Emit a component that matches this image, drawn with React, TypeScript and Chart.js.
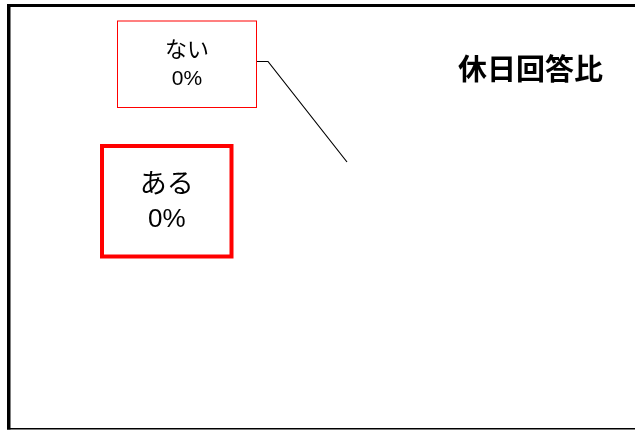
import React, { useEffect, useRef } from "react";
import { Chart, registerables } from "chart.js";

Chart.register(...registerables);

// ---- data ----
const categories = ["ある", "ない"];
const values = [0, 0];
const chartTitle = "休日回答比";

// ---- label styles (per category) ----
const labelStyles = [
  { dx: -180.25, dy: 39.25, w: 129.5, h: 110.5, border: 4, catFont: 27, pctFont: 26, lineGap: 36.4, leader: false },
  { dx: -160, dy: -97.75, w: 139, h: 86.5, border: 1, catFont: 22, pctFont: 21, lineGap: 30.6, leader: true },
];

const pct = (v: number, total: number) => (total > 0 ? Math.round((v / total) * 100) : 0) + "%";

const decorPlugin = {
  id: "decor",
  beforeDraw(chart: any) {
    const ctx = chart.ctx;
    ctx.save();
    ctx.fillStyle = "#ffffff";
    ctx.fillRect(0, 0, chart.width, chart.height);
    ctx.restore();
  },
  afterDraw(chart: any) {
    const ctx = chart.ctx;
    const W = chart.width;
    ctx.save();
    // frame
    ctx.fillStyle = "#000000";
    ctx.fillRect(7, 4, 3.5, 425.5);
    ctx.fillRect(7, 4, W - 7, 3);
    ctx.fillRect(7, 428, W - 7, 1.5);

    // title
    ctx.fillStyle = "#000000";
    ctx.font = "bold 29px 'Noto Sans CJK JP', sans-serif";
    ctx.textAlign = "center";
    ctx.textBaseline = "middle";
    ctx.fillText(chartTitle, 530.5, 68.5);

    // data labels
    const meta = chart.getDatasetMeta(0);
    const total = values.reduce((a, b) => a + b, 0);
    meta.data.forEach((arc: any, i: number) => {
      const st = labelStyles[i];
      const mid = (arc.startAngle + arc.endAngle) / 2;
      const ax = arc.x + Math.cos(mid) * arc.outerRadius;
      const ay = arc.y + Math.sin(mid) * arc.outerRadius;
      const cx = ax + st.dx;
      const cy = ay + st.dy;
      const left = cx - st.w / 2;
      const top = cy - st.h / 2;
      if (st.leader) {
        ctx.strokeStyle = "#000000";
        ctx.lineWidth = 1.2;
        ctx.beginPath();
        ctx.moveTo(left + st.w, cy - 2.75);
        ctx.lineTo(left + st.w + 11.5, cy - 2.75);
        ctx.lineTo(ax, ay);
        ctx.stroke();
      }
      ctx.strokeStyle = "#ff0000";
      ctx.lineWidth = st.border;
      ctx.fillStyle = "#ffffff";
      ctx.fillRect(left, top, st.w, st.h);
      ctx.strokeRect(left, top, st.w, st.h);
      ctx.fillStyle = "#000000";
      ctx.textAlign = "center";
      ctx.textBaseline = "middle";
      ctx.font = `${st.catFont}px 'Noto Sans CJK JP', sans-serif`;
      ctx.fillText(categories[i], cx, cy - st.lineGap / 2);
      ctx.font = `${st.pctFont}px 'Liberation Sans', 'Noto Sans CJK JP', sans-serif`;
      ctx.fillText(pct(values[i], total), cx, cy + st.lineGap / 2);
    });
    ctx.restore();
  },
};

export default function App() {
  const ref = useRef<HTMLCanvasElement | null>(null);
  useEffect(() => {
    document.body.style.margin = "0";
    const canvas = ref.current;
    if (!canvas) return;
    const chart = new Chart(canvas, {
      type: "pie",
      data: {
        labels: categories,
        datasets: [
          {
            data: values,
            backgroundColor: ["#4472c4", "#ed7d31"],
            borderWidth: 0,
            offset: 0,
            hoverOffset: 0,
          },
        ],
      },
      options: {
        responsive: false,
        animation: false,
        devicePixelRatio: 1,
        layout: { padding: { left: 217, right: 158, top: 162, bottom: 8 } },
        plugins: {
          legend: { display: false },
          title: { display: false },
          tooltip: { enabled: false },
        },
      },
      plugins: [decorPlugin],
    });
    return () => chart.destroy();
  }, []);
  return (
    <div style={{ width: 635, height: 430 }}>
      <canvas ref={ref} width={635} height={430} style={{ display: "block" }} />
    </div>
  );
}
